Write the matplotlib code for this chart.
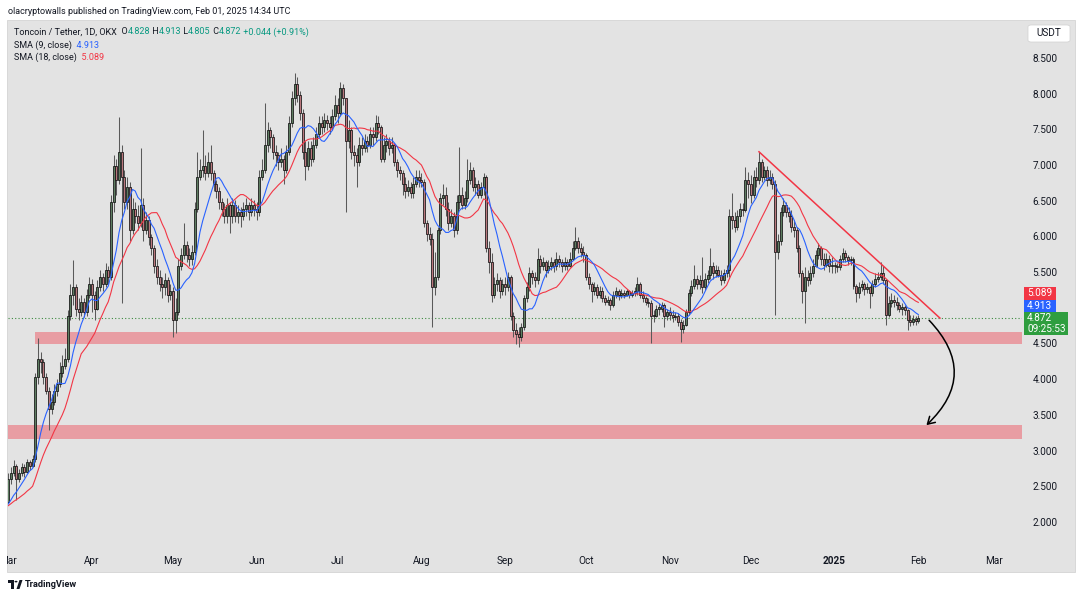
import datetime as dt
import numpy as np
import pandas as pd
import matplotlib
matplotlib.use("Agg")
import matplotlib.pyplot as plt
from matplotlib.patches import Rectangle, FancyArrowPatch, FancyBboxPatch, Polygon, Circle
from matplotlib.transforms import blended_transform_factory

# ---------------- data (TONUSDT, 1D, OKX) ----------------
start_date = dt.date(2024, 3, 1)
# closes before the visible window (only feed the moving averages)
prior_close = [2.20, 2.24, 2.18, 2.22, 2.25, 2.21, 2.19, 2.26, 2.23,
               2.18, 2.22, 2.20, 2.17, 2.23, 2.21, 2.26, 2.30]

close_mar = [2.62, 2.70, 2.80, 2.62, 2.70, 2.78, 2.72, 2.85, 2.80, 2.90, 4.05, 4.30, 4.25, 4.05, 3.85, 3.60,
             3.70, 3.85, 3.95, 4.10, 4.20, 4.30, 4.90, 5.20, 5.30, 5.00, 4.95, 5.10, 4.95, 5.20, 5.35]
high_mar = [2.70, 2.78, 2.88, 2.82, 2.76, 2.84, 2.82, 2.90, 2.88, 2.95, 4.10, 4.59, 4.40, 4.30, 4.10, 3.90,
            3.80, 3.95, 4.02, 4.25, 4.35, 4.45, 4.98, 5.35, 5.68, 5.35, 5.15, 5.20, 5.15, 5.28, 5.45]
low_mar = [2.28, 2.55, 2.66, 2.32, 2.58, 2.66, 2.65, 2.70, 2.74, 2.78, 2.85, 3.95, 4.10, 3.95, 3.80, 3.30,
           3.52, 3.65, 3.78, 3.90, 4.05, 4.15, 4.25, 4.85, 5.05, 4.90, 4.85, 4.90, 4.88, 4.90, 5.15]

close_apr = [5.20, 5.00, 5.30, 5.45, 5.35, 5.55, 5.45, 6.50, 7.00, 6.80, 7.20, 6.85, 6.50, 6.70, 6.10,
             6.40, 6.30, 6.20, 6.45, 6.10, 6.25, 6.00, 5.85, 5.60, 5.45, 5.35, 5.30, 5.40, 5.20, 5.25]
high_apr = [5.42, 5.25, 5.40, 5.55, 5.50, 5.64, 5.60, 6.60, 7.15, 7.10, 7.69, 7.30, 6.95, 6.85, 6.78,
            6.55, 6.50, 6.45, 7.25, 6.55, 6.35, 6.30, 6.05, 5.90, 5.70, 5.55, 5.45, 5.50, 5.45, 5.35]
low_apr = [4.95, 4.84, 4.98, 5.25, 5.25, 5.30, 5.35, 5.40, 6.35, 6.60, 6.75, 5.08, 6.40, 6.40, 5.95,
           6.05, 6.20, 6.10, 6.15, 5.95, 6.05, 5.90, 5.75, 5.50, 5.35, 5.25, 5.15, 5.20, 5.10, 5.12]

close_may = [4.85, 4.95, 5.60, 5.75, 5.90, 5.75, 5.70, 5.80, 6.40, 6.85, 6.95, 7.00, 6.90, 7.05, 6.90, 6.75,
             6.65, 6.50, 6.40, 6.30, 6.45, 6.30, 6.45, 6.30, 6.35, 6.30, 6.40, 6.45, 6.35, 6.45, 6.40]
high_may = [5.30, 5.15, 5.70, 5.85, 6.20, 5.95, 5.85, 5.90, 6.50, 7.20, 7.10, 7.50, 7.15, 7.20, 7.30, 6.95,
            6.80, 6.70, 6.55, 6.48, 6.55, 6.50, 6.55, 6.52, 6.45, 6.42, 6.50, 6.55, 6.50, 6.55, 6.52]
low_may = [4.60, 4.66, 4.92, 5.55, 5.70, 5.65, 5.60, 5.62, 5.75, 6.35, 6.80, 6.85, 6.80, 6.85, 6.80, 6.65,
           6.55, 6.40, 6.30, 6.20, 6.20, 6.06, 6.20, 6.22, 6.20, 6.15, 6.25, 6.30, 6.25, 6.30, 6.30]

close_jun = [6.35, 6.85, 6.95, 7.30, 7.50, 7.40, 7.20, 7.15, 7.05, 7.10, 6.95, 7.20, 7.60, 7.95, 8.15,
             8.00, 7.75, 7.20, 7.00, 7.25, 7.10, 7.30, 7.45, 7.60, 7.55, 7.65, 7.60, 7.55, 7.70, 7.85]
high_jun = [6.50, 6.95, 7.10, 7.88, 7.62, 7.55, 7.45, 7.30, 7.20, 7.25, 7.15, 7.30, 7.70, 8.05, 8.30,
            8.25, 8.05, 7.80, 7.35, 7.35, 7.35, 7.40, 7.55, 7.70, 7.70, 7.75, 7.72, 7.70, 7.80, 8.00]
low_jun = [6.25, 6.30, 6.80, 6.90, 7.20, 7.25, 7.10, 7.00, 6.95, 6.98, 6.75, 6.90, 7.15, 7.55, 7.85,
           7.90, 7.65, 7.10, 6.80, 6.95, 7.00, 7.05, 7.25, 7.40, 7.45, 7.48, 7.50, 7.45, 7.50, 7.65]

close_jul = [7.75, 8.10, 7.95, 7.35, 7.50, 7.20, 7.15, 7.05, 7.30, 7.25, 7.35, 7.30, 7.45, 7.40, 7.60, 7.55,
             7.10, 7.30, 7.35, 7.25, 7.30, 7.05, 6.95, 6.90, 6.75, 6.65, 6.70, 6.62, 6.75, 6.85, 6.80]
high_jul = [7.95, 8.18, 8.15, 7.95, 7.65, 7.55, 7.30, 7.25, 7.40, 7.40, 7.45, 7.42, 7.55, 7.55, 7.72, 7.70,
            7.58, 7.40, 7.45, 7.40, 7.40, 7.32, 7.10, 7.00, 6.95, 6.85, 6.80, 6.78, 6.85, 6.95, 6.95]
low_jul = [7.60, 7.70, 7.85, 6.36, 7.25, 7.10, 7.00, 6.70, 7.00, 7.15, 7.20, 7.20, 7.25, 7.30, 7.35, 7.45,
           7.05, 7.05, 7.20, 7.15, 7.18, 7.00, 6.85, 6.80, 6.60, 6.55, 6.58, 6.55, 6.55, 6.70, 6.70]

close_aug = [6.78, 6.20, 6.05, 5.98, 5.30, 5.45, 6.10, 6.55, 6.60, 6.40, 6.20, 6.30, 6.10, 6.50, 6.60, 6.45,
             6.55, 6.80, 6.95, 6.70, 6.75, 6.60, 6.70, 6.85, 5.85, 5.65, 5.20, 5.35, 5.40, 5.25, 5.35]
high_aug = [6.90, 6.82, 6.25, 6.15, 6.06, 5.80, 6.15, 6.62, 6.75, 6.70, 6.50, 6.40, 6.35, 6.60, 7.27, 6.70,
            6.65, 7.10, 7.05, 6.98, 6.85, 6.80, 6.78, 6.90, 6.88, 5.95, 5.78, 5.45, 5.50, 5.45, 5.42]
low_aug = [6.70, 6.15, 5.95, 5.90, 4.75, 5.20, 5.40, 6.05, 6.45, 6.30, 6.10, 6.15, 6.00, 6.05, 6.40, 6.40,
           6.40, 6.50, 6.75, 6.65, 6.60, 6.55, 6.55, 6.60, 5.80, 5.50, 5.10, 5.15, 5.25, 5.15, 5.20]

close_sep = [5.30, 5.45, 4.90, 4.70, 4.65, 4.60, 4.75, 5.15, 5.30, 5.50, 5.45, 5.40, 5.70, 5.60, 5.65,
             5.55, 5.60, 5.65, 5.60, 5.70, 5.65, 5.60, 5.65, 5.60, 5.70, 5.85, 5.95, 5.85, 5.80, 5.75]
high_sep = [5.45, 5.52, 5.48, 4.95, 4.80, 4.75, 4.80, 5.20, 5.38, 5.58, 5.55, 5.52, 5.85, 5.75, 5.72,
            5.68, 5.68, 5.72, 5.70, 5.80, 5.75, 5.70, 5.72, 5.70, 5.80, 5.95, 6.15, 6.00, 5.92, 5.88]
low_sep = [5.20, 5.25, 4.85, 4.60, 4.50, 4.47, 4.55, 4.70, 5.10, 5.25, 5.35, 5.30, 5.35, 5.50, 5.55,
           5.45, 5.50, 5.55, 5.52, 5.55, 5.58, 5.52, 5.55, 5.55, 5.58, 5.68, 5.82, 5.78, 5.72, 5.65]

close_oct = [5.45, 5.35, 5.25, 5.30, 5.20, 5.25, 5.15, 5.10, 5.12, 5.05, 5.20, 5.25, 5.20, 5.22, 5.20, 5.25,
             5.20, 5.22, 5.25, 5.35, 5.20, 5.15, 5.10, 5.08, 4.90, 4.90, 5.00, 5.00, 5.05, 4.90, 4.95]
high_oct = [5.78, 5.50, 5.38, 5.38, 5.35, 5.32, 5.30, 5.20, 5.18, 5.15, 5.25, 5.30, 5.28, 5.28, 5.26, 5.28,
            5.26, 5.26, 5.30, 5.45, 5.38, 5.25, 5.18, 5.15, 5.12, 4.98, 5.06, 5.08, 5.10, 5.08, 5.00]
low_oct = [5.40, 5.28, 5.10, 5.20, 5.15, 5.15, 5.10, 5.05, 5.05, 4.98, 5.02, 5.15, 5.12, 5.15, 5.15, 5.18,
           5.15, 5.16, 5.18, 5.20, 5.15, 5.10, 5.05, 5.02, 4.52, 4.82, 4.88, 4.92, 4.95, 4.75, 4.85]

close_nov = [4.92, 4.88, 4.90, 4.82, 4.72, 4.78, 4.95, 5.22, 5.32, 5.42, 5.35, 5.40, 5.30, 5.42, 5.48,
             5.60, 5.50, 5.55, 5.48, 5.40, 5.50, 5.55, 6.30, 6.25, 6.15, 6.30, 6.40, 6.38, 6.80, 6.75]
high_nov = [5.02, 4.98, 4.96, 4.94, 4.86, 4.85, 5.00, 5.28, 5.40, 5.61, 5.48, 5.48, 5.73, 5.50, 5.55,
            5.85, 5.65, 5.62, 5.60, 5.55, 5.56, 5.62, 6.40, 6.62, 6.35, 6.38, 6.48, 6.48, 6.99, 6.92]
low_nov = [4.85, 4.82, 4.84, 4.76, 4.54, 4.66, 4.76, 4.92, 5.18, 5.28, 5.28, 5.28, 5.22, 5.26, 5.36,
           5.42, 5.42, 5.44, 5.44, 5.34, 5.36, 5.45, 5.45, 6.12, 6.08, 6.10, 6.22, 6.30, 6.35, 6.55]

close_dec = [6.60, 6.85, 6.80, 7.05, 6.85, 6.95, 6.80, 6.85, 6.75, 5.80, 5.95, 6.35, 6.45, 6.35, 6.30, 6.15,
             6.10, 5.85, 5.50, 5.25, 5.45, 5.40, 5.50, 5.60, 5.75, 5.85, 5.70, 5.62, 5.70, 5.60, 5.62]
high_dec = [6.88, 6.95, 6.99, 7.20, 7.10, 7.00, 7.00, 6.95, 6.90, 6.80, 6.05, 6.42, 6.55, 6.50, 6.42, 6.38,
            6.25, 6.15, 5.90, 5.55, 5.58, 5.55, 5.60, 5.70, 5.82, 5.92, 5.88, 5.78, 5.78, 5.75, 5.72]
low_dec = [6.48, 6.55, 6.70, 6.75, 6.78, 6.80, 6.72, 6.75, 6.68, 4.91, 5.70, 5.90, 6.30, 6.28, 6.22, 6.08,
           6.00, 5.80, 5.45, 5.08, 4.80, 5.32, 5.35, 5.45, 5.58, 5.70, 5.62, 5.55, 5.58, 5.52, 5.50]

close_jan = [5.60, 5.58, 5.70, 5.78, 5.72, 5.68, 5.70, 5.32, 5.22, 5.30, 5.35, 5.28, 5.30, 5.22, 5.35, 5.42,
             5.45, 5.50, 5.40, 4.92, 5.08, 5.12, 5.10, 5.05, 5.00, 5.02, 4.98, 4.85, 4.82, 4.86, 4.828]
high_jan = [5.66, 5.64, 5.75, 5.85, 5.82, 5.76, 5.74, 5.72, 5.35, 5.38, 5.40, 5.38, 5.36, 5.32, 5.40, 5.50,
            5.52, 5.66, 5.60, 5.42, 5.18, 5.22, 5.20, 5.16, 5.10, 5.08, 5.06, 5.00, 4.92, 4.92, 4.90]
low_jan = [5.50, 5.52, 5.55, 5.66, 5.65, 5.62, 5.62, 5.28, 5.10, 5.15, 5.25, 5.20, 5.22, 5.01, 5.18, 5.30,
           5.38, 5.40, 5.35, 4.78, 4.88, 5.02, 5.02, 4.98, 4.95, 4.92, 4.92, 4.70, 4.76, 4.78, 4.78]

close_feb = [4.872]
high_feb = [4.913]
low_feb = [4.805]

month_labels = ["Mar", "Apr", "May", "Jun", "Jul", "Aug", "Sep", "Oct", "Nov", "Dec", "2025", "Feb", "Mar"]
month_dates = [dt.date(2024, 3, 1), dt.date(2024, 4, 1), dt.date(2024, 5, 1), dt.date(2024, 6, 1),
               dt.date(2024, 7, 1), dt.date(2024, 8, 1), dt.date(2024, 9, 1), dt.date(2024, 10, 1),
               dt.date(2024, 11, 1), dt.date(2024, 12, 1), dt.date(2025, 1, 1), dt.date(2025, 2, 1),
               dt.date(2025, 3, 1)]
price_ticks = [8.5, 8.0, 7.5, 7.0, 6.5, 6.0, 5.5, 4.5, 4.0, 3.5, 3.0, 2.5, 2.0]

zone_upper = (4.50, 4.68)
zone_lower = (3.18, 3.37)
zone_upper_start = dt.date(2024, 3, 11)
trend_pts = [(dt.date(2024, 12, 4), 7.20), (dt.date(2025, 2, 9), 4.87)]
arrow_pts = [(dt.date(2025, 2, 5), 4.84), (dt.date(2025, 2, 4), 3.37)]

sma9_last, sma18_last = 4.913, 5.089
last_close = 4.872
countdown = "09:25:53"

# ---------------- assemble ----------------
closes = np.array(close_mar + close_apr + close_may + close_jun + close_jul + close_aug + close_sep +
                  close_oct + close_nov + close_dec + close_jan + close_feb)
highs = np.array(high_mar + high_apr + high_may + high_jun + high_jul + high_aug + high_sep +
                 high_oct + high_nov + high_dec + high_jan + high_feb)
lows = np.array(low_mar + low_apr + low_may + low_jun + low_jul + low_aug + low_sep +
                low_oct + low_nov + low_dec + low_jan + low_feb)
opens = np.concatenate([[prior_close[-1]], closes[:-1]])
n = len(closes)
days = np.arange(n)

allc = pd.Series(list(prior_close) + list(closes))
sma9 = allc.rolling(9).mean().values[len(prior_close):]
sma18 = allc.rolling(18).mean().values[len(prior_close):]


def dday(d):
    return (d - start_date).days


W, H = 1080, 597
fig = plt.figure(figsize=(W / 100, H / 100), dpi=100)
fig.patch.set_facecolor("white")


def fx(x):
    return x / W


def fy(y):
    return 1 - y / H


FAM = ["Roboto", "DejaVu Sans"]
DARK = "#131722"
RED = "#f23645"
BLUE = "#2962ff"
GREEN_T = "#089981"

pane = Rectangle((fx(7), fy(572)), (1075 - 7) / W, (572 - 20) / H, transform=fig.transFigure,
                 facecolor="#e3e3e3", edgecolor="#d4d4d4", lw=0.6, zorder=-10)
fig.patches.append(pane)

ax = fig.add_axes([fx(8), fy(550), (1022 - 8) / W, (550 - 20) / H])
ax.set_facecolor("none")
ax.set_xlim(-0.11, 375.4)
ax.set_ylim(1.621, 9.046)
ax.axis("off")

# zones
x_end = 375.4
ax.add_patch(Rectangle((dday(zone_upper_start) - 0.1, zone_upper[0]), x_end - dday(zone_upper_start) + 0.1,
                       zone_upper[1] - zone_upper[0], facecolor=RED, alpha=0.4, lw=0, zorder=1))
ax.add_patch(Rectangle((-0.11, zone_lower[0]), x_end + 0.11, zone_lower[1] - zone_lower[0],
                       facecolor=RED, alpha=0.4, lw=0, zorder=1))

# candles
ax.vlines(days, lows, highs, color="#5a5a5a", lw=0.75, zorder=3)
up = closes >= opens
body_bottom = np.minimum(opens, closes)
body_h = np.maximum(np.abs(closes - opens), 0.02)
fills = np.where(up, "#5e7d61", "#b9777d")
ax.bar(days, body_h, bottom=body_bottom, width=0.74, color=fills, edgecolor="#111111",
       linewidth=0.55, zorder=4)

# SMAs
ax.plot(days, sma18, color=RED, lw=0.8, zorder=5)
ax.plot(days, sma9, color=BLUE, lw=0.8, zorder=6)

# last price dotted line
ax.axhline(last_close, color="#3d8b40", lw=0.8, ls=(0, (1, 2)), zorder=2)

# trendline
ax.plot([dday(trend_pts[0][0]), dday(trend_pts[1][0])], [trend_pts[0][1], trend_pts[1][1]],
        color=RED, lw=1.1, zorder=7)

# curved arrow
arr = FancyArrowPatch((dday(arrow_pts[0][0]), arrow_pts[0][1]), (dday(arrow_pts[1][0]), arrow_pts[1][1]),
                      connectionstyle="arc3,rad=-0.5", arrowstyle="->,head_length=5,head_width=3",
                      color="black", lw=1.1, zorder=8, shrinkA=0, shrinkB=0)
ax.add_patch(arr)

fig.canvas.draw()
R = fig.canvas.get_renderer()


def width_of(s, size, weight="normal"):
    t = fig.text(0, 0, s, fontsize=size, family=FAM, weight=weight)
    w = t.get_window_extent(renderer=R).width
    t.remove()
    return w


def fitted_size(s, target, weight="normal"):
    return 10 * target / width_of(s, 10, weight)


def draw_seq(x, y, parts, size):
    for s, c in parts:
        t = fig.text(fx(x), fy(y), s, fontsize=size, color=c, family=FAM, ha="left", va="center")
        x += t.get_window_extent(renderer=R).width


# top header
hdr = "olacryptowalls published on TradingView.com, Feb 01, 2025 14:34 UTC"
fig.text(fx(8), fy(11), hdr, fontsize=fitted_size(hdr, 283), color=DARK, family=FAM, ha="left", va="center")

# legend lines
l1 = [("Toncoin / Tether, 1D, OKX", DARK), ("  O", DARK), ("4.828", GREEN_T), (" H", DARK), ("4.913", GREEN_T),
      (" L", DARK), ("4.805", GREEN_T), (" C", DARK), ("4.872", GREEN_T), (" +0.044 (+0.91%)", GREEN_T)]
s1 = fitted_size("".join(p[0] for p in l1), 297)
draw_seq(14, 32, l1, s1)
draw_seq(14, 45, [("SMA (9, close)", DARK), ("  %.3f" % sma9_last, BLUE)], s1)
draw_seq(14, 57, [("SMA (18, close)", DARK), ("  %.3f" % sma18_last, RED)], s1)

# price axis labels
ytr = blended_transform_factory(fig.transFigure, ax.transData)
tick_size = fitted_size("8.500", 25)
for p in price_ticks:
    fig.text(fx(1045), p, "%.3f" % p, transform=ytr, fontsize=tick_size, color=DARK, family=FAM,
             ha="center", va="center")

# USDT box
fig.patches.append(FancyBboxPatch((fx(1028), fy(42)), (1070 - 1028) / W, (42 - 25) / H,
                                  boxstyle="round,pad=0,rounding_size=0.003", transform=fig.transFigure,
                                  facecolor="white", edgecolor="#d0d0d0", lw=0.5))
fig.text(fx(1049), fy(33.5), "USDT", fontsize=tick_size, color=DARK, family=FAM, ha="center", va="center")

# price tags
def tag(y0, y1, x1, color, lines):
    fig.patches.append(Rectangle((fx(1024), fy(y1)), (x1 - 1024) / W, (y1 - y0) / H,
                                 transform=fig.transFigure, facecolor=color, edgecolor="none"))
    hgt = (y1 - y0) / len(lines)
    for i, s in enumerate(lines):
        fig.text(fx(1027), fy(y0 + hgt * (i + 0.5)), s, fontsize=tick_size, color="white", family=FAM,
                 ha="left", va="center")


tag(287, 299.5, 1056, RED, ["%.3f" % sma18_last])
tag(299.5, 312, 1056, BLUE, ["%.3f" % sma9_last])
tag(312, 335, 1068, "#2f9e3f", ["%.3f" % last_close, countdown])

# time axis labels
xtr = blended_transform_factory(ax.transData, fig.transFigure)
for lab, d in zip(month_labels, month_dates):
    t = fig.text(dday(d), fy(561), lab, transform=xtr, fontsize=tick_size, color=DARK, family=FAM,
                 ha="center", va="center", weight="bold" if lab == "2025" else "normal")
    t.set_clip_path(pane)

# footer logo
fig.patches.append(Polygon([(fx(8), fy(580)), (fx(14), fy(580)), (fx(14), fy(589)), (fx(11), fy(589)),
                            (fx(11), fy(583)), (fx(8), fy(583))], closed=True, transform=fig.transFigure,
                           facecolor="#131722", edgecolor="none"))
fig.patches.append(Circle((fx(16), fy(581.6)), 1.5 / W, transform=fig.transFigure, facecolor="#131722"))
fig.patches.append(Polygon([(fx(16.5), fy(589)), (fx(19.5), fy(580)), (fx(22.5), fy(580)), (fx(19.5), fy(589))],
                           closed=True, transform=fig.transFigure, facecolor="#131722", edgecolor="none"))
fig.text(fx(25), fy(584.5), "TradingView", fontsize=fitted_size("TradingView", 53, "bold"), weight="bold",
         color="#131722", family=FAM, ha="left", va="center")

fig.savefig("out.png", dpi=100, facecolor="white")
